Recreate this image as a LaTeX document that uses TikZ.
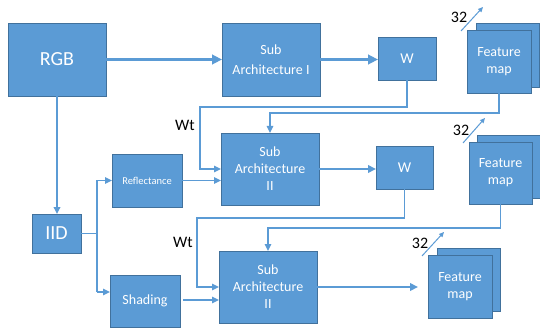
\documentclass[tikz,border=0pt]{standalone}
\usepackage{fontspec}
\setmainfont{Carlito}
\usetikzlibrary{arrows.meta,calc}
\definecolor{boxblue}{HTML}{5B9BD5}
\definecolor{edgeblue}{HTML}{41719C}
\begin{document}
\begin{tikzpicture}[x=1pt,y=-1pt,
  box/.style={draw=edgeblue, line width=0.8pt, fill=boxblue, text=white,
    inner sep=0pt, outer sep=0pt, anchor=north west, align=center},
  big/.style={font=\fontsize{20}{24}\selectfont},
  mid/.style={font=\fontsize{14}{17}\selectfont},
  link/.style={draw=boxblue, line width=1.5pt, -{Triangle[length=7pt,width=6.5pt]}},
  plain/.style={draw=boxblue, line width=1.5pt},
  bold/.style={draw=boxblue, line width=2.6pt, -{Triangle[length=10pt,width=9.5pt]}},
  medium/.style={draw=boxblue, line width=2pt, -{Triangle[length=8pt,width=7.5pt]}},
  slash/.style={draw=boxblue, line width=1pt, -{Triangle[length=5pt,width=4.5pt]}},
  lbl/.style={text=black, font=\fontsize{16}{18}\selectfont, inner sep=0pt}]
\useasboundingbox (0,0) rectangle (540,331);
\fill[white] (0,0) rectangle (540,331);

% top row
\node[box,big,minimum width=98pt,minimum height=73pt] (rgb) at (8,23) {RGB};
\node[box,font=\fontsize{14}{20}\selectfont,minimum width=98pt,minimum height=73pt] (subI) at (222,23) {Sub\\Architecture I};
\node[box,font=\fontsize{15}{18}\selectfont,minimum width=58pt,minimum height=43pt] (w1) at (378,37) {W};
\node[box,minimum width=63pt,minimum height=64pt] (fm1b) at (476,23) {};
\node[box,mid,minimum width=64pt,minimum height=63pt] (fm1) at (467,30) {Feature\\map};

% middle row
\node[box,font=\fontsize{10.5}{12}\selectfont,minimum width=70pt,minimum height=53pt] (refl) at (112,154) {Reflectance};
\node[box,mid,minimum width=98pt,minimum height=72pt] (subIIa) at (221,133) {Sub\\Architecture\\II};
\node[box,font=\fontsize{15}{18}\selectfont,minimum width=57pt,minimum height=43pt] (w2) at (376,146) {W};
\node[box,minimum width=63pt,minimum height=63pt] (fm2b) at (477,135) {};
\node[box,mid,minimum width=63pt,minimum height=62pt] (fm2) at (469,142) {Feature\\map};

% bottom row
\node[box,big,minimum width=49pt,minimum height=39pt] (iid) at (32,214) {IID};
\node[box,mid,minimum width=70pt,minimum height=52pt] (shade) at (110,275) {Shading};
\node[box,mid,minimum width=98pt,minimum height=72pt] (subIIb) at (219,251) {Sub\\Architecture\\II};
\node[box,minimum width=63pt,minimum height=63pt] (fm3b) at (437,248) {};
\node[box,mid,minimum width=64pt,minimum height=63pt] (fm3) at (428,255) {Feature\\map};

% labels
\node[lbl] (wt1) at (185,125) {Wt};
\node[lbl] (wt2) at (183,242) {Wt};
\node[lbl] (n1) at (459,17) {32};
\node[lbl] (n2) at (461,130) {32};
\node[lbl] (n3) at (420,243) {32};

% helper points
\coordinate (br) at (97,233.5);
\coordinate (wtA) at (200,107);
\coordinate (wtB) at (197,218);
\coordinate (shIn) at (97,292);
\coordinate (s1a) at (461,31);  \coordinate (s1b) at (483,7);
\coordinate (s2a) at (463,143); \coordinate (s2b) at (485,118);
\coordinate (s3a) at (422,256); \coordinate (s3b) at (444,232);

% main flow
\draw[bold] (rgb.east) -- (rgb.east -| subI.west);
\draw[bold] (subI.east) -- (subI.east -| w1.west);
\draw[medium] (subIIa.east) -- (subIIa.east -| w2.west);
\draw[medium,shorten >=10pt] (subIIb.east) -- (subIIb.east -| fm3.west);
\draw[link,line width=2.2pt] (rgb.south) -- (rgb.south |- iid.north);

% intrinsic image branches
\draw[plain] (iid.east) -- (br) -- (shIn);
\draw[link] (br) |- (refl.west);
\draw[link] (shIn) -- ($(shIn -| shade.west)$);
\draw[link] (refl.east) -- (refl.east -| subIIa.west);
\draw[link] ($(shade.east)+(3,-1)$) -- ($(shade.east -| subIIb.west)+(0,-1)$);

% weight transfer loops
\draw[link] (w1.south) |- (wtA) |- (subIIa.west);
\draw[link] (fm1.south) -- ++(0,20) -| (subIIa.north);
\draw[link] (w2.south) |- (wtB) |- (subIIb.west);
\draw[link] (fm2.south) -- ++(0,24) -| (subIIb.north);

% channel count marks
\draw[slash] (s1a) -- (s1b);
\draw[slash] (s2a) -- (s2b);
\draw[slash] (s3a) -- (s3b);
\end{tikzpicture}
\end{document}
